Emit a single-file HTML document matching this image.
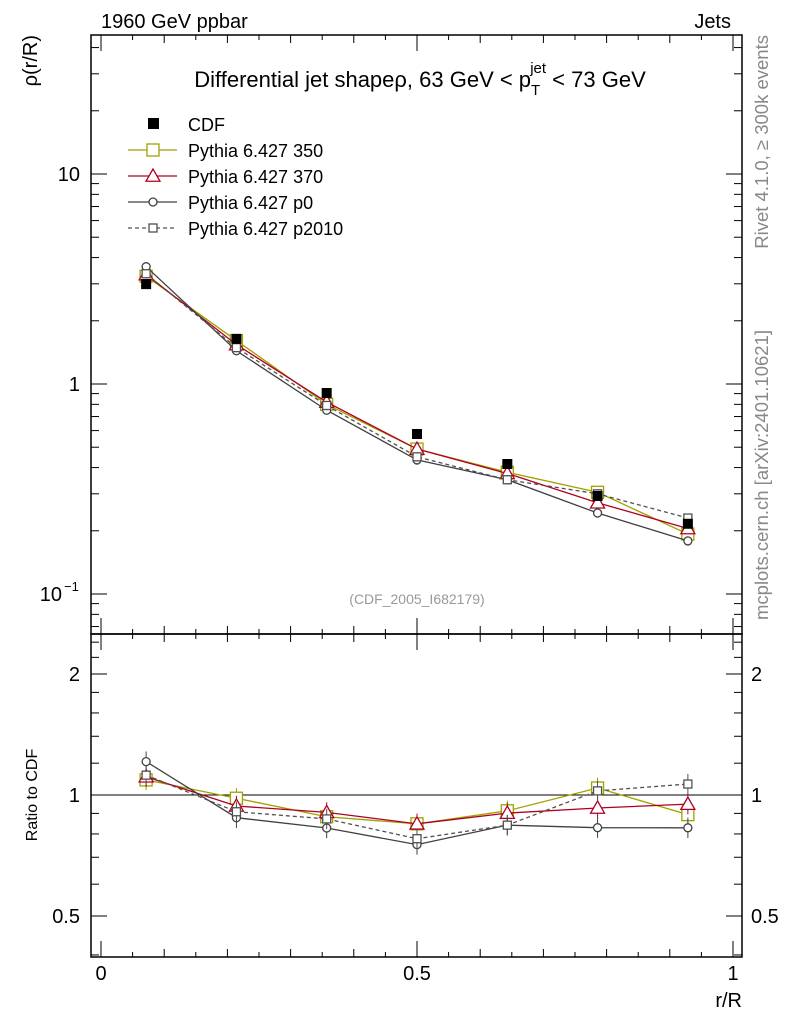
<!DOCTYPE html>
<html><head><meta charset="utf-8"><style>
body{margin:0;background:#fff}
svg{display:block;font-family:"Liberation Sans",sans-serif}
</style></head><body>
<svg id="c" width="786" height="1024" xmlns="http://www.w3.org/2000/svg"></svg>
<script>
const xCenters=[0.0714,0.2143,0.3571,0.5,0.6429,0.7857,0.9286];
const cdfValues=[2.99,1.64,0.906,0.578,0.416,0.293,0.216];
const mc350=[3.26,1.61,0.80,0.49,0.38,0.305,0.193];
const mc370=[3.32,1.54,0.82,0.49,0.375,0.272,0.205];
const mcP0=[3.62,1.44,0.75,0.435,0.35,0.243,0.179];
const mcP2010=[3.35,1.49,0.79,0.45,0.35,0.30,0.23];
const mainTickLabels=["10","1","10"];
const ratioTicks=[2,1,0.5];

const NS="http://www.w3.org/2000/svg";
const svg=document.getElementById('c');
function el(t,a,p){const e=document.createElementNS(NS,t);for(const k in a)e.setAttribute(k,a[k]);(p||svg).appendChild(e);return e;}
const L=91,R=742,T=35,MB=634,RB=957;
const X=v=>101+632*v;
const Y=v=>384-210*Math.log10(v);
const YR=v=>795-121*Math.log2(v);

let f=el('rect',{x:L,y:T,width:R-L,height:MB-T,fill:'none',stroke:'#000','stroke-width':1.5});

f=el('rect',{x:L,y:MB,width:R-L,height:RB-MB,fill:'none',stroke:'#000','stroke-width':1.5});


for(let i=0;i<=20;i++){const v=i*0.05;const x=X(v);if(x<L||x>R)continue;
 const len=(i%10==0)?16:(i%2==0?8:5);
 [[T,1],[MB,-1],[MB,1],[RB,-1]].forEach(([y,d])=>el('line',{x1:x,x2:x,y1:y,y2:y+d*len,stroke:'#000'}));}
for(let e=-2;e<=1;e++)for(let m=1;m<=9;m++){const v=m*Math.pow(10,e);const y=Y(v);if(y<T||y>MB)continue;
 const len=m==1?16:8;el('line',{x1:L,x2:L+len,y1:y,y2:y,stroke:'#000'});el('line',{x1:R,x2:R-len,y1:y,y2:y,stroke:'#000'});}
[0.4,0.5,0.6,0.7,0.8,0.9,1,1.2,1.4,1.6,1.8,2,2.2,2.4].forEach(v=>{const y=YR(v);const len=(v==0.5||v==1||v==2)?16:8;
 el('line',{x1:L,x2:L+len,y1:y,y2:y,stroke:'#000'});el('line',{x1:R,x2:R-len,y1:y,y2:y,stroke:'#000'});});

function txt(s,a,name){const t=el('text',a);t.textContent=s;return t;}
txt(mainTickLabels[0],{x:80,y:Y(10)+7,'font-size':20,'text-anchor':'end'},'y-tick-10');
txt(mainTickLabels[1],{x:80,y:Y(1)+7,'font-size':20,'text-anchor':'end'},'y-tick-1');
txt(mainTickLabels[2],{x:62,y:Y(0.1)+7,'font-size':20,'text-anchor':'end'},'y-tick-0.1');
txt('−1',{x:64,y:Y(0.1)-3,'font-size':13},'y-tick-exponent');
ratioTicks.forEach(v=>{txt(String(v),{x:80,y:YR(v)+7,'font-size':20,'text-anchor':'end'},'ratio-tick-left');
 txt(String(v),{x:751,y:YR(v)+7,'font-size':20},'ratio-tick-right');});
[0,0.5,1].forEach(v=>txt(String(v),{x:X(v),y:980,'font-size':20,'text-anchor':'middle'},'x-tick-label'));
txt('r/R',{x:742,y:1007,'font-size':20,'text-anchor':'end'},'x-axis-title');
txt('ρ(r/R)',{x:0,y:0,'font-size':20,'text-anchor':'end',transform:'translate(37,35) rotate(-90)'},'y-axis-title');
txt('Ratio to CDF',{x:0,y:0,'font-size':16,'text-anchor':'middle',transform:'translate(37,795) rotate(-90)'},'ratio-axis-title');
txt('1960 GeV ppbar',{x:101,y:28,'font-size':20},'energy-label');
txt('Jets',{x:731,y:28,'font-size':20,'text-anchor':'end'},'process-label');
let t=txt('',{x:420,y:87,'font-size':22,'text-anchor':'middle'},'plot-title');
t.innerHTML='Differential jet shapeρ, 63 GeV &lt; p<tspan dy="8" font-size="15">T</tspan><tspan dy="-22" dx="-10" font-size="15">jet</tspan><tspan dy="14"> &lt; 73 GeV</tspan>';
txt('(CDF_2005_I682179)',{x:417,y:604,'font-size':14,fill:'#999','text-anchor':'middle'},'analysis-id');
txt('Rivet 4.1.0, ≥ 300k events',{x:0,y:0,'font-size':18.5,fill:'#888','text-anchor':'end',transform:'translate(768,35) rotate(-90)'},'rivet-label');
txt('mcplots.cern.ch [arXiv:2401.10621]',{x:0,y:0,'font-size':18.5,fill:'#888','text-anchor':'end',transform:'translate(768,330) rotate(-90)'},'mcplots-label');
el('line',{x1:L,x2:R,y1:YR(1),y2:YR(1),stroke:'#000'});

const series=[
 {n:'pythia-350',v:mc350,c:'#a0a000',m:'sq',s:6,d:'',label:'Pythia 6.427 350'},
 {n:'pythia-370',v:mc370,c:'#b00020',m:'tri',s:7,d:'',label:'Pythia 6.427 370'},
 {n:'pythia-p0',v:mcP0,c:'#404040',m:'circ',s:4,d:'',label:'Pythia 6.427 p0'},
 {n:'pythia-p2010',v:mcP2010,c:'#505050',m:'sq',s:4,d:'4,3',label:'Pythia 6.427 p2010'}];
function marker(g,m,x,y,s,c){
 if(m=='sq')el('rect',{x:x-s,y:y-s,width:2*s,height:2*s,fill:'#fff',stroke:c,'stroke-width':1.3},g);
 else if(m=='tri')el('polygon',{points:`${x},${y-s} ${x-s},${y+s*0.75} ${x+s},${y+s*0.75}`,fill:'#fff',stroke:c,'stroke-width':1.3},g);
 else el('circle',{cx:x,cy:y,r:s,fill:'#fff',stroke:c,'stroke-width':1.3},g);}
series.forEach(s=>{
 const g=el('g',{});
 const pts=s.v.map((v,i)=>X(xCenters[i])+','+Y(v)).join(' ');
 el('polyline',{points:pts,fill:'none',stroke:s.c,'stroke-width':1.3,'stroke-dasharray':s.d},g);
 const rp=s.v.map((v,i)=>X(xCenters[i])+','+YR(v/cdfValues[i])).join(' ');
 el('polyline',{points:rp,fill:'none',stroke:s.c,'stroke-width':1.3,'stroke-dasharray':s.d},g);
 s.v.forEach((v,i)=>{const x=X(xCenters[i]);
  const e=0.05*v;el('line',{x1:x,x2:x,y1:Y(v+e),y2:Y(v-e),stroke:s.c},g);
  const r=v/cdfValues[i];el('line',{x1:x,x2:x,y1:YR(r*1.06),y2:YR(r/1.06),stroke:s.c},g);
  marker(g,s.m,x,Y(v),s.s,s.c);marker(g,s.m,x,YR(r),s.s,s.c);});
});
const cg=el('g',{});
cdfValues.forEach((v,i)=>el('rect',{x:X(xCenters[i])-5,y:Y(v)-5,width:10,height:10,fill:'#000'},cg));

const lg=el('g',{});
el('rect',{x:148,y:118,width:11,height:11,fill:'#000'},lg);
txt('CDF',{x:188,y:131,'font-size':18},'legend-entry-cdf');
series.forEach((s,i)=>{const y=150+26*i;
 el('line',{x1:128,x2:177,y1:y,y2:y,stroke:s.c,'stroke-width':1.3,'stroke-dasharray':s.d},lg);
 marker(lg,s.m,153,y,s.s,s.c);
 txt(s.label,{x:188,y:y+7,'font-size':18},'legend-entry-'+s.n);});
</script>
</body></html>
